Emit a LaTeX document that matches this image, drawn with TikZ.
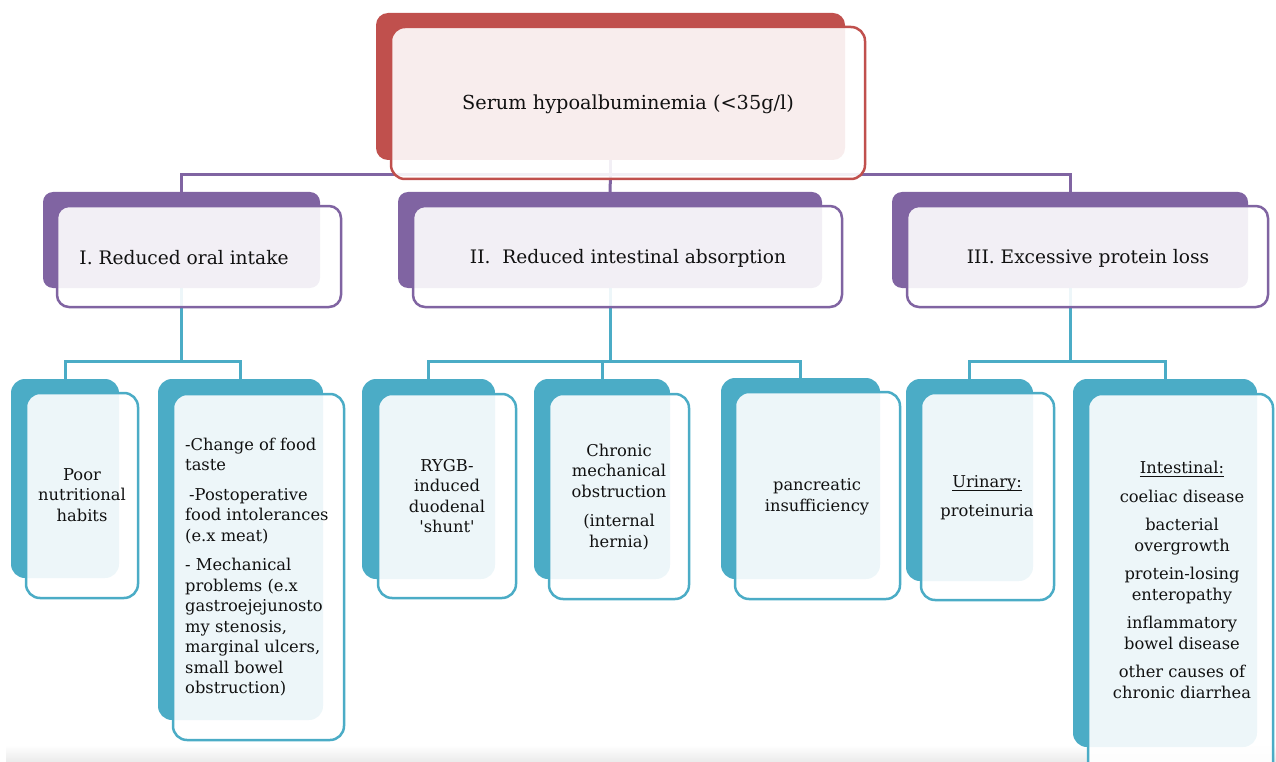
\documentclass[tikz,border=0pt]{standalone}
\usepackage{fontspec}
\setmainfont{DejaVu Serif}[Ligatures=TeXOff]
\pgfdeclarelayer{bg}
\pgfsetlayers{bg,main}
\definecolor{cRed}{HTML}{C0504D}
\definecolor{cPur}{HTML}{8064A2}
\definecolor{cTeal}{HTML}{4BACC6}
\definecolor{cTxt}{HTML}{111111}
\newcommand\mkbox[7]{%
  \node[#2, rounded corners=#7pt, minimum width={(#5)-(#3)}, minimum height={(#6)-(#4)}]
    (#1) at ({((#3)+(#5))/2},{((#4)+(#6))/2}) {};}
\newcommand\myul[1]{\setbox0\hbox{#1}\rlap{\rule[-2.5pt]{\wd0}{0.7pt}}#1}
\begin{document}
\begin{tikzpicture}[x=1pt,y=-1pt,
  backR/.style={fill=cRed, draw=none, inner sep=0pt, outer sep=0pt},
  backP/.style={fill=cPur, draw=none, inner sep=0pt, outer sep=0pt},
  backT/.style={fill=cTeal, draw=none, inner sep=0pt, outer sep=0pt},
  frontbox/.style={fill=white, fill opacity=0.9, draw=#1, draw opacity=1, line width=2.5pt, inner sep=0pt, outer sep=0pt},
  conP/.style={draw=cPur, line width=3pt},
  conT/.style={draw=cTeal, line width=3pt},
  tTop/.style={font=\fontsize{19.3}{24}\selectfont, text=cTxt, align=center, inner sep=0pt},
  tMid/.style={font=\fontsize{18.6}{21}\selectfont, text=cTxt, align=center, inner sep=0pt},
  tLow/.style={font=\fontsize{16.3}{20.5}\selectfont, text=cTxt, align=center, inner sep=0pt},
]
\useasboundingbox (0,0) rectangle (1276,762);
\clip (0,0) rectangle (1276,762);
\shade[top color=white, bottom color=black!8] (6,745) rectangle (1276,762);

% level 1
\mkbox{topB}{backR}{376}{13}{845}{160}{12}
\mkbox{topF}{frontbox=cRed}{391}{27}{865}{179}{14}
% level 2
\mkbox{IB}{backP}{43}{192}{320}{288}{10}
\mkbox{IF}{frontbox=cPur}{57}{206}{341}{307}{12}
\mkbox{IIB}{backP}{398}{192}{822}{288}{10}
\mkbox{IIF}{frontbox=cPur}{413}{206}{842}{307}{12}
\mkbox{IIIB}{backP}{892}{192}{1248}{288}{10}
\mkbox{IIIF}{frontbox=cPur}{907}{206}{1268}{307}{12}
% level 3
\mkbox{poorB}{backT}{11}{379}{119}{578}{14}
\mkbox{poorF}{frontbox=cTeal}{26}{393}{138}{598}{14}
\mkbox{chgB}{backT}{158}{379}{323}{720}{14}
\mkbox{chgF}{frontbox=cTeal}{173}{394}{344}{740}{14}
\mkbox{rygB}{backT}{362}{379}{495}{579}{14}
\mkbox{rygF}{frontbox=cTeal}{378}{394}{516}{598}{14}
\mkbox{chrB}{backT}{534}{379}{670}{579}{14}
\mkbox{chrF}{frontbox=cTeal}{549}{394}{689}{599}{14}
\mkbox{panB}{backT}{721}{378}{880}{579}{14}
\mkbox{panF}{frontbox=cTeal}{735}{392}{900}{599}{14}
\mkbox{uriB}{backT}{906}{379}{1033}{581}{14}
\mkbox{uriF}{frontbox=cTeal}{921}{393}{1054}{600}{14}
\mkbox{intB}{backT}{1073}{379}{1257}{747}{14}
\mkbox{intF}{frontbox=cTeal}{1088}{394}{1273}{778}{14}

\coordinate (busA) at (0,175);
\coordinate (busB) at (0,361);

\begin{pgfonlayer}{bg}
\draw[conP] (topB.south) -- (topB.south |- busA) -| (IB.north);
\draw[conP] (topB.south |- busA) -| (IIIB.north);
\draw[conP] (topB.south |- busA) -- (IIB.north);
\draw[conT] (IB.south) -- (IB.south |- busB) -| (poorB.north);
\draw[conT] (IB.south |- busB) -| (chgB.north);
\draw[conT] (IIB.south) -- (IIB.south |- busB) -| (rygB.north);
\draw[conT] (IIB.south |- busB) -| (chrB.north);
\draw[conT] (IIB.south |- busB) -| (panB.north);
\draw[conT] (IIIB.south) -- (IIIB.south |- busB) -| (uriB.north);
\draw[conT] (IIIB.south |- busB) -| (intB.north);
\end{pgfonlayer}

% texts
\node[tTop] (tTop) at (628,104) {Serum hypoalbuminemia (<35g/l)};
\node[tMid] (tI) at (184,258) {I. Reduced oral intake};
\node[tMid] (tII) at (628,258) {II.\ \ Reduced intestinal absorption};
\node[tMid] (tIII) at (1088,258) {III. Excessive protein loss};

\node[tLow] (tPoor) at (82,495) {Poor\\nutritional\\habits};
\node[tLow, align=left, anchor=west] (tChg) at (185,567)
  {-Change of food\\taste\\[9pt]\hspace{4pt}-Postoperative\\food intolerances\\(e.x meat)\\[9pt]- Mechanical\\problems (e.x\\gastroejejunosto\\my stenosis,\\marginal ulcers,\\small bowel\\obstruction)};
\node[tLow] (tRyg) at (447,496) {RYGB-\\induced\\duodenal\\'shunt'};
\node[tLow] (tChr) at (619,497) {Chronic\\mechanical\\obstruction\\[9pt](internal\\hernia)};
\node[tLow] (tPan) at (817,497) {pancreatic\\insufficiency};
\node[tLow] (tUri) at (987,498) {\myul{Urinary:}\\[8.5pt]proteinuria};
\node[tLow] (tInt) at (1182,580) {\myul{Intestinal:}\\[8pt]coeliac disease\\[8pt]bacterial\\overgrowth\\[8pt]protein-losing\\enteropathy\\[8pt]inflammatory\\bowel disease\\[8pt]other causes of\\chronic diarrhea};
\end{tikzpicture}
\end{document}
